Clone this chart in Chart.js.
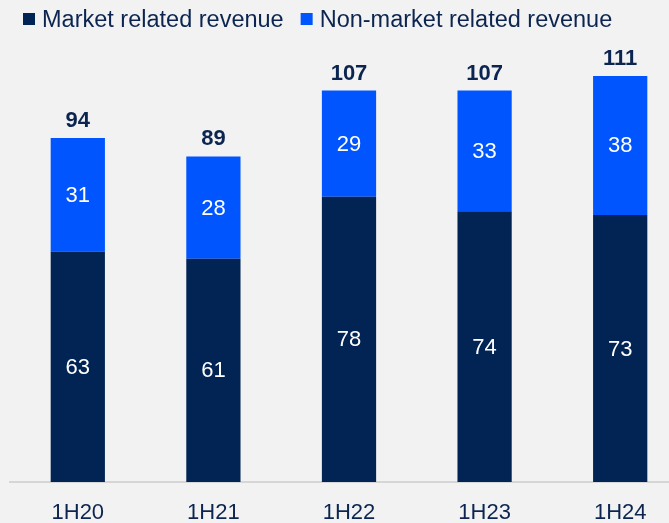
<!DOCTYPE html>
<html>
<head>
<meta charset="utf-8">
<script src="https://cdn.jsdelivr.net/npm/chart.js@4.4.1/dist/chart.umd.min.js"></script>
<style>
  html, body { margin: 0; padding: 0; background: #F2F2F2; overflow: hidden; }
  #wrap { position: relative; width: 700px; height: 545px; }
</style>
</head>
<body>
<div id="wrap"><canvas id="c" width="700" height="545"></canvas></div>
<script>
const categories = ['1H20', '1H21', '1H22', '1H23', '1H24'];
const marketRelated = [63, 61, 78, 74, 73];
const nonMarketRelated = [31, 28, 29, 33, 38];
const totals = [94, 89, 107, 107, 111];
const seriesNames = ['Market related revenue', 'Non-market related revenue'];

const NAVY = '#012454';
const BLUE = '#0055FE';
const TEXT = '#0B2550';
const FONT = '"Liberation Sans", Arial, sans-serif';

const labelPlugin = {
  id: 'labels',
  afterDatasetsDraw(chart) {
    const ctx = chart.ctx;
    ctx.save();
    ctx.textAlign = 'center';
    ctx.textBaseline = 'middle';
    ctx.font = '22px ' + FONT;
    ctx.fillStyle = '#FFFFFF';
    chart.data.datasets.forEach((ds, i) => {
      const meta = chart.getDatasetMeta(i);
      meta.data.forEach((el, j) => {
        ctx.fillText(String(ds.data[j]), el.x, (el.y + el.base) / 2 + 1);
      });
    });
    const topMeta = chart.getDatasetMeta(chart.data.datasets.length - 1);
    ctx.font = 'bold 22px ' + FONT;
    ctx.fillStyle = TEXT;
    ctx.textBaseline = 'alphabetic';
    topMeta.data.forEach((el, j) => {
      ctx.fillText(String(totals[j]), el.x, el.y - 11);
    });
    // legend
    ctx.textAlign = 'left';
    ctx.font = '23.5px ' + FONT;
    let x = 23;
    chart.data.datasets.forEach((ds) => {
      ctx.fillStyle = ds.backgroundColor;
      ctx.fillRect(x, 13, 12, 12);
      ctx.fillStyle = TEXT;
      ctx.fillText(ds.label, x + 19, 27);
      x += 19 + ctx.measureText(ds.label).width + 17;
    });
    ctx.restore();
  }
};

new Chart(document.getElementById('c'), {
  type: 'bar',
  data: {
    labels: categories,
    datasets: [
      { label: seriesNames[0], data: marketRelated, backgroundColor: NAVY, borderWidth: 0 },
      { label: seriesNames[1], data: nonMarketRelated, backgroundColor: BLUE, borderWidth: 0 }
    ]
  },
  options: {
    responsive: false,
    animation: false,
    devicePixelRatio: 1,
    layout: { padding: { left: 10, right: 12, top: 43, bottom: 1 } },
    datasets: { bar: { categoryPercentage: 1.0, barPercentage: 0.4 } },
    plugins: { legend: { display: false }, tooltip: { enabled: false } },
    scales: {
      x: {
        stacked: true,
        grid: { display: false, drawTicks: false },
        border: { display: true, color: '#D6D6D6', width: 2 },
        ticks: { color: TEXT, font: { family: FONT, size: 22, lineHeight: 1.0 }, padding: 20, maxRotation: 0 }
      },
      y: {
        stacked: true,
        display: false,
        min: 0,
        max: 120
      }
    }
  },
  plugins: [labelPlugin]
});
</script>
</body>
</html>
